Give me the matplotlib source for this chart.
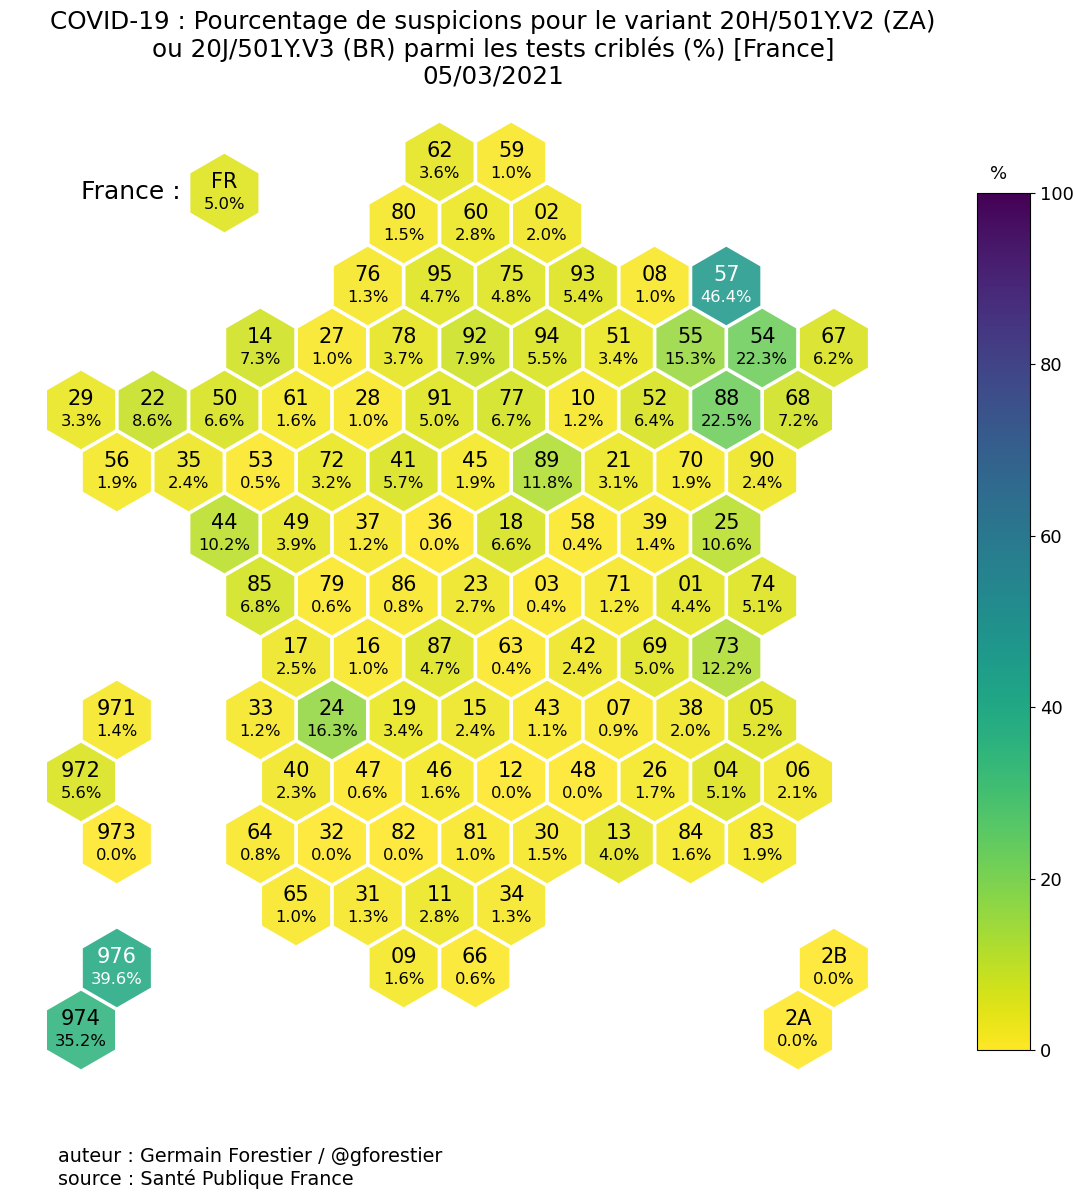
import numpy as np
import matplotlib
matplotlib.use("Agg")
import matplotlib.pyplot as plt
from matplotlib.cm import ScalarMappable

# departements par ligne de la grille, avec la colonne de depart
codes = [
    ["62", "59"],
    ["80", "60", "02"],
    ["76", "95", "75", "93", "08", "57"],
    ["14", "27", "78", "92", "94", "51", "55", "54", "67"],
    ["29", "22", "50", "61", "28", "91", "77", "10", "52", "88", "68"],
    ["56", "35", "53", "72", "41", "45", "89", "21", "70", "90"],
    ["44", "49", "37", "36", "18", "58", "39", "25"],
    ["85", "79", "86", "23", "03", "71", "01", "74"],
    ["17", "16", "87", "63", "42", "69", "73"],
    ["33", "24", "19", "15", "43", "07", "38", "05"],
    ["40", "47", "46", "12", "48", "26", "04", "06"],
    ["64", "32", "82", "81", "30", "13", "84", "83"],
    ["65", "31", "11", "34"],
    ["09", "66"],
]
values = [
    [3.6, 1.0],
    [1.5, 2.8, 2.0],
    [1.3, 4.7, 4.8, 5.4, 1.0, 46.4],
    [7.3, 1.0, 3.7, 7.9, 5.5, 3.4, 15.3, 22.3, 6.2],
    [3.3, 8.6, 6.6, 1.6, 1.0, 5.0, 6.7, 1.2, 6.4, 22.5, 7.2],
    [1.9, 2.4, 0.5, 3.2, 5.7, 1.9, 11.8, 3.1, 1.9, 2.4],
    [10.2, 3.9, 1.2, 0.0, 6.6, 0.4, 1.4, 10.6],
    [6.8, 0.6, 0.8, 2.7, 0.4, 1.2, 4.4, 5.1],
    [2.5, 1.0, 4.7, 0.4, 2.4, 5.0, 12.2],
    [1.2, 16.3, 3.4, 2.4, 1.1, 0.9, 2.0, 5.2],
    [2.3, 0.6, 1.6, 0.0, 0.0, 1.7, 5.1, 2.1],
    [0.8, 0.0, 0.0, 1.0, 1.5, 4.0, 1.6, 1.9],
    [1.0, 1.3, 2.8, 1.3],
    [1.6, 0.6],
]
start_cols = [10, 9, 8, 5, 0, 1, 4, 5, 6, 5, 6, 5, 6, 9]

# outre-mer, corse et moyenne nationale
extra_codes = ["971", "972", "973", "976", "974", "2B", "2A", "FR"]
extra_values = [1.4, 5.6, 0.0, 39.6, 35.2, 0.0, 0.0, 5.0]
extra_cols = [1, 0, 1, 1, 0, 21, 20, 4]
extra_rows = [9, 10, 11, 13, 14, 13, 14, 0.5]

cbar_ticks = [0, 20, 40, 60, 80, 100]

xs, ys, cs, names = [], [], [], []
for r in range(len(codes)):
    for i in range(len(codes[r])):
        xs.append(start_cols[r] + 2 * i)
        ys.append(r)
        cs.append(values[r][i])
        names.append(codes[r][i])
xs += extra_cols
ys += extra_rows
cs += extra_values
names += extra_codes

fig = plt.figure(figsize=(10.73, 12), dpi=100)
ax = fig.add_axes([0, 0, 1, 1])
# une colonne = 35.85 px, une ligne = 62 px
ax.set_xlim((0 - 81) / 35.85, (1073 - 81) / 35.85)
ax.set_ylim((1200 - 162) / 62, (0 - 162) / 62)
ax.axis("off")

sc = ax.scatter(xs, ys, c=cs, s=3200, marker="h", cmap="viridis_r", vmin=0, vmax=100,
                edgecolors="none", alpha=0.88)

for x, y, v, n in zip(xs, ys, cs, names):
    col = "white" if v > 36 else "black"
    ax.annotate(n, (x, y), xytext=(0, 8), textcoords="offset points", ha="center", va="center",
                fontsize=15, color=col)
    ax.annotate("%.1f%%" % v, (x, y), xytext=(0, -8), textcoords="offset points", ha="center", va="center",
                fontsize=11.8, color=col)

fig.text(493 / 1073, 1 - 49 / 1200, "COVID-19 : Pourcentage de suspicions pour le variant 20H/501Y.V2 (ZA)\n"
         "ou 20J/501Y.V3 (BR) parmi les tests criblés (%) [France]\n05/03/2021",
         ha="center", va="center", fontsize=17.75, linespacing=1.12)
fig.text(81 / 1073, 1 - 192 / 1200, "France :", ha="left", va="center", fontsize=18)
fig.text(58 / 1073, 1 - 1168 / 1200, "auteur : Germain Forestier / @gforestier\nsource : Santé Publique France",
         ha="left", va="center", fontsize=13.8)

# barre de couleur sans la transparence des hexagones
cax = fig.add_axes([977 / 1073, 1 - 1050 / 1200, 53 / 1073, 857 / 1200])
cb = fig.colorbar(ScalarMappable(norm=sc.norm, cmap=sc.cmap), cax=cax)
cb.set_ticks(cbar_ticks)
cb.ax.tick_params(labelsize=13)
fig.text(999 / 1073, 1 - 174 / 1200, "%", ha="center", va="center", fontsize=13)

plt.savefig("out.png", dpi=100)
